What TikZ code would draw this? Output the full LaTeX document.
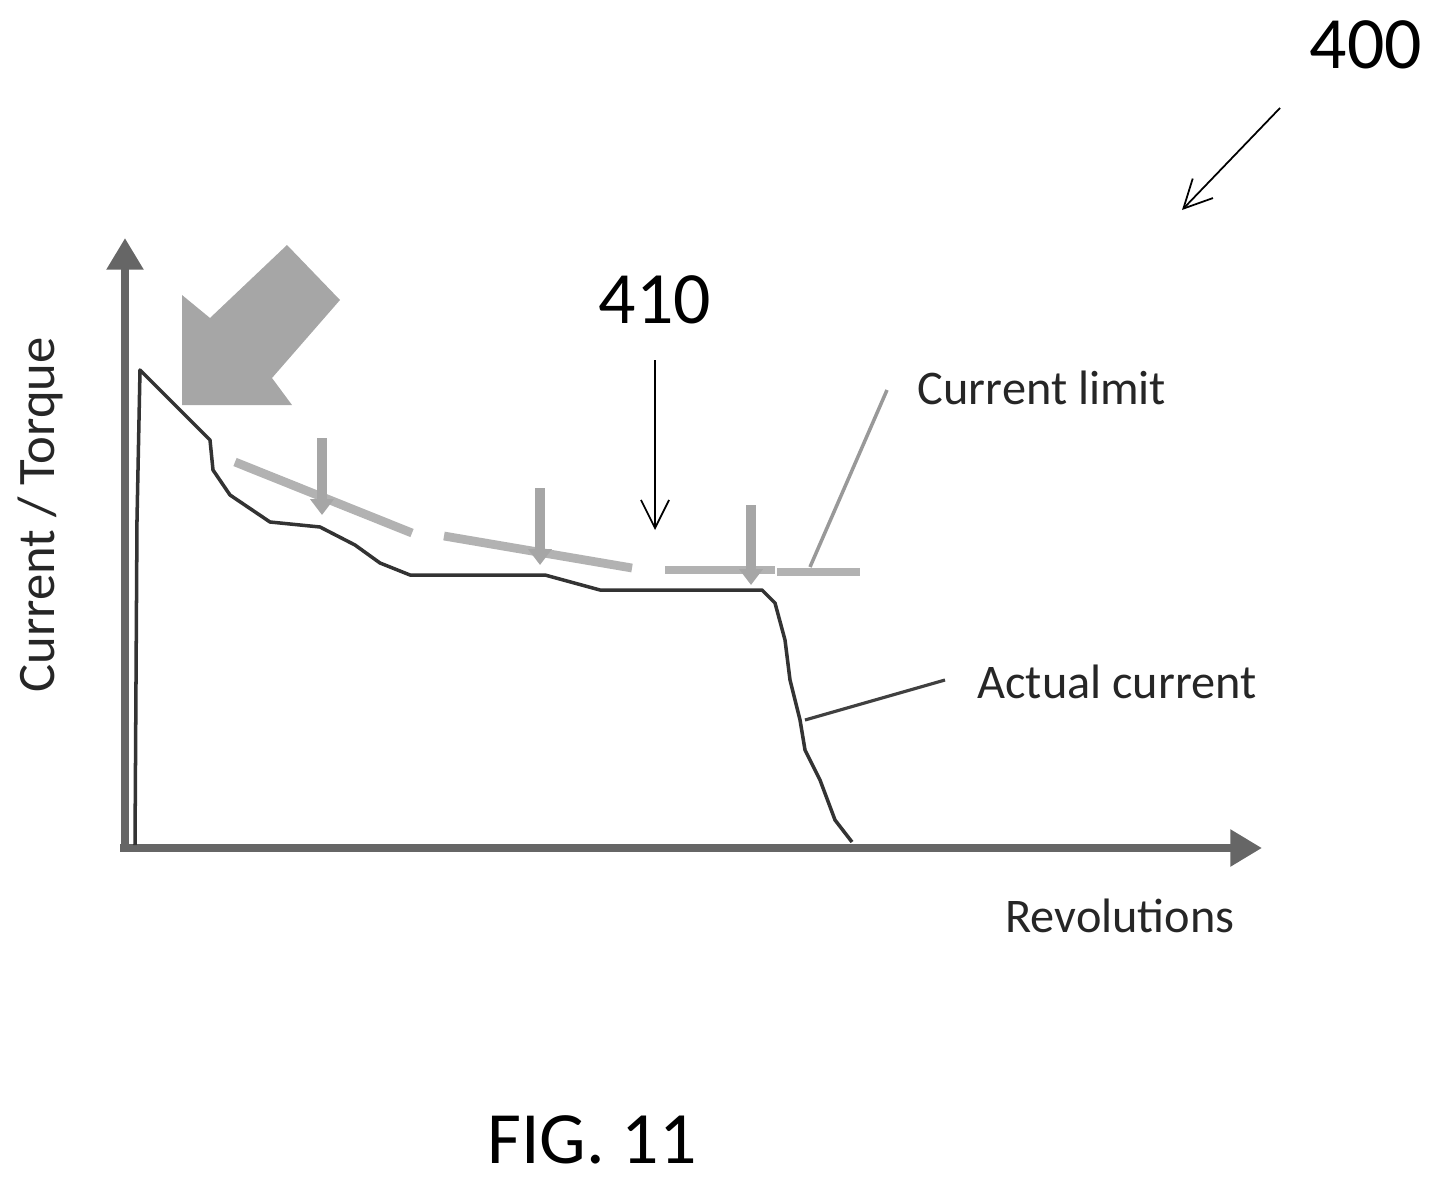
\documentclass[tikz,border=0pt]{standalone}
\usepackage{fontspec}
\setmainfont{Carlito}
\usetikzlibrary{arrows.meta}

\begin{document}
\begin{tikzpicture}[x=0.02cm,y=-0.02cm,
    axis/.style={draw=black!60,line width=4.5pt,-{Triangle[length=18pt,width=20pt]}},
    limit/.style={draw=black!30,line width=5pt},
    limmark/.style={draw=black!35,line width=6pt,-{Triangle[length=9pt,width=13pt]}},
    curve/.style={draw=black!80,line width=2pt,line join=round},
    lbl/.style={font=\fontsize{27.5}{30}\selectfont,text=black!85},
    ref/.style={font=\fontsize{42}{44}\selectfont},
    lead/.style={draw=black,line width=1pt,-{Straight Barb[length=16pt,width=16pt]}}]
  \useasboundingbox (0,0) rectangle (1442,1183);

  % axes
  \coordinate (O) at (125,850);
  \draw[axis] (O) -- (125,238);
  \draw[axis] (120,848) -- (1262,848);

  % big pointer
  \fill[black!35] (182,405) -- (182,295) -- (210,318) -- (287,245) -- (340,300)
    -- (272,378) -- (292,405) -- cycle;

  % current limit
  \draw[limit] (235,462) -- (412,533);
  \draw[limit] (444,536) -- (632,568);
  \draw[limit] (665,570) -- (775,570);
  \draw[limit] (777,572) -- (860,572);
  \draw[limmark] (322,438) -- (322,515);
  \draw[limmark] (540,488) -- (540,565);
  \draw[limmark] (751,505) -- (751,585);

  % actual current
  \draw[curve] (135,845) -- (137,520) -- (140,370) -- (175,405) -- (210,440)
    -- (213,470) -- (230,495) -- (270,522) -- (320,527) -- (355,545)
    -- (380,563) -- (410,575) -- (545,575) -- (600,590) -- (762,590)
    -- (775,603) -- (785,640) -- (790,680) -- (800,720) -- (805,750)
    -- (820,780) -- (835,820) -- (852,842);

  % labels
  \node[lbl] (limtxt) at (1042,388) {Current limit};
  \node[lbl] (acttxt) at (1117,682) {Actual current};
  \node[lbl] (revtxt) at (1120,916) {Revolutions};
  \node[lbl,font=\fontsize{30}{32}\selectfont,rotate=90] (ytxt) at (40,515) {Current / Torque};
  \coordinate (limend) at (810,567);
  \coordinate (actend) at (805,720);
  \draw[black!40,line width=2pt] (887,390) -- (limend);
  \draw[black!75,line width=1.8pt] (945,680) -- (actend);

  % reference numerals
  \node[ref] (n400) at (1366,45) {400};
  \coordinate (n400a) at (1280,108);
  \coordinate (n400b) at (1182,210);
  \draw[lead] (n400a) -- (n400b);
  \node[ref] (n410) at (655,300) {410};
  \coordinate (n410a) at (655,360);
  \coordinate (n410b) at (655,530);
  \draw[lead] (n410a) -- (n410b);
  \node[ref] (fig) at (592,1140) {FIG. 11};
\end{tikzpicture}
\end{document}
